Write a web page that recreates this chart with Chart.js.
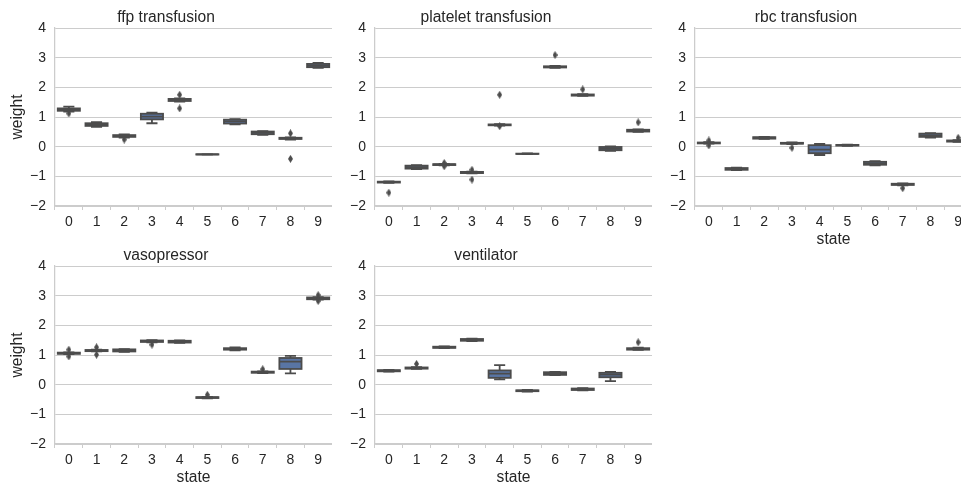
<!DOCTYPE html>
<html>
<head>
  <title>Weights by state</title>
  <script src="https://cdn.jsdelivr.net/npm/chart.js"></script>
  <style>
    body { margin: 0; background: #fff; width: 961px; height: 482px; overflow: hidden; position: relative; }
    .panel { position: absolute; }
  </style>
</head>
<body>
  <div class="panel" style="left:0px;top:0px"><canvas id="ffp" width="332" height="247"></canvas></div>
  <div class="panel" style="left:320px;top:0px"><canvas id="platelet" width="332" height="247"></canvas></div>
  <div class="panel" style="left:640px;top:0px"><canvas id="rbc" width="332" height="247"></canvas></div>
  <div class="panel" style="left:0px;top:238px"><canvas id="vaso" width="332" height="247"></canvas></div>
  <div class="panel" style="left:320px;top:238px"><canvas id="vent" width="332" height="247"></canvas></div>

  <script>
    const states = ['0', '1', '2', '3', '4', '5', '6', '7', '8', '9'];

    // ffp transfusion
    const ffpQ1  = [1.21, 0.70, 0.33, 0.92, 1.54, -0.265, 0.78, 0.42, 0.26, 2.68];
    const ffpMed = [1.25, 0.75, 0.36, 1.01, 1.58, -0.26, 0.85, 0.47, 0.28, 2.73];
    const ffpQ3  = [1.29, 0.79, 0.39, 1.11, 1.61, -0.255, 0.91, 0.51, 0.30, 2.79];
    const ffpLo  = [1.18, 0.67, 0.31, 0.79, 1.52, -0.27, 0.75, 0.40, 0.24, 2.66];
    const ffpHi  = [1.35, 0.83, 0.41, 1.15, 1.63, -0.25, 0.93, 0.52, 0.31, 2.82];
    const ffpOut = [[1.12], [], [0.24], [], [1.75, 1.29], [], [], [], [0.45, -0.41], []];

    // platelet transfusion
    const pltQ1  = [-1.21, -0.74, -0.62, -0.89, 0.72, -0.245, 2.67, 1.72, -0.12, 0.51];
    const pltMed = [-1.19, -0.69, -0.60, -0.87, 0.73, -0.24, 2.69, 1.74, -0.07, 0.54];
    const pltQ3  = [-1.18, -0.64, -0.59, -0.85, 0.75, -0.235, 2.71, 1.76, -0.01, 0.57];
    const pltLo  = [-1.22, -0.76, -0.63, -0.90, 0.71, -0.25, 2.66, 1.71, -0.14, 0.50];
    const pltHi  = [-1.17, -0.62, -0.58, -0.84, 0.76, -0.23, 2.72, 1.77, 0.01, 0.58];
    const pltOut = [[-1.55], [], [-0.55, -0.66], [-0.78, -1.11], [1.75, 0.69], [], [3.09], [1.93], [], [0.82]];

    // rbc transfusion
    const rbcQ1  = [0.11, -0.78, 0.27, 0.10, -0.22, 0.035, -0.61, -1.29, 0.33, 0.17];
    const rbcMed = [0.12, -0.75, 0.30, 0.11, -0.10, 0.05, -0.56, -1.27, 0.38, 0.19];
    const rbcQ3  = [0.14, -0.72, 0.32, 0.13, 0.05, 0.06, -0.51, -1.25, 0.44, 0.21];
    const rbcLo  = [0.10, -0.79, 0.26, 0.09, -0.28, 0.03, -0.63, -1.30, 0.31, 0.16];
    const rbcHi  = [0.15, -0.71, 0.33, 0.14, 0.09, 0.065, -0.49, -1.24, 0.46, 0.22];
    const rbcOut = [[0.21, 0.04], [], [], [-0.04], [], [], [], [-1.40], [], [0.30]];

    // vasopressor
    const vasQ1  = [1.04, 1.13, 1.12, 1.44, 1.42, -0.45, 1.18, 0.40, 0.53, 2.88];
    const vasMed = [1.06, 1.15, 1.16, 1.47, 1.45, -0.43, 1.21, 0.42, 0.78, 2.91];
    const vasQ3  = [1.08, 1.17, 1.19, 1.49, 1.48, -0.42, 1.23, 0.44, 0.90, 2.94];
    const vasLo  = [1.03, 1.12, 1.11, 1.43, 1.41, -0.46, 1.16, 0.39, 0.38, 2.87];
    const vasHi  = [1.09, 1.18, 1.20, 1.50, 1.49, -0.41, 1.26, 0.45, 0.97, 2.95];
    const vasOut = [[1.18, 0.95], [1.26, 1.01], [], [1.35], [], [-0.34], [], [0.52], [], [3.02, 2.82]];

    // ventilator
    const venQ1  = [0.45, 0.54, 1.24, 1.48, 0.23, -0.22, 0.33, -0.18, 0.25, 1.18];
    const venMed = [0.47, 0.56, 1.26, 1.51, 0.37, -0.20, 0.38, -0.15, 0.34, 1.21];
    const venQ3  = [0.49, 0.58, 1.28, 1.54, 0.48, -0.19, 0.42, -0.13, 0.40, 1.23];
    const venLo  = [0.44, 0.53, 1.23, 1.47, 0.18, -0.23, 0.32, -0.19, 0.12, 1.17];
    const venHi  = [0.50, 0.59, 1.29, 1.55, 0.66, -0.18, 0.43, -0.12, 0.43, 1.25];
    const venOut = [[], [0.70], [], [], [], [], [], [], [], [1.43]];

    const yTicks = [-2, -1, 0, 1, 2, 3, 4];

    const FONT = "'Liberation Sans', Arial, sans-serif";
    const TEXT = '#262626';
    const GRID = '#cccccc';
    const BOX_FILL = '#5975a4';
    const LINE = '#4c4c4c';

    // thin diamond marker for fliers
    const diamond = document.createElement('canvas');
    diamond.width = 5; diamond.height = 8;
    (function () {
      const c = diamond.getContext('2d');
      c.fillStyle = LINE;
      c.beginPath();
      c.moveTo(2.5, 0); c.lineTo(5, 4); c.lineTo(2.5, 8); c.lineTo(0, 4);
      c.closePath(); c.fill();
    })();

    // outlines, whiskers, caps and medians on top of the floating bars
    const boxLines = {
      id: 'boxLines',
      afterDatasetDraw(chart, args) {
        const ds = chart.data.datasets[args.index];
        if (!ds.stats) return;
        const st = ds.stats;
        const y = chart.scales.y;
        const ctx = chart.ctx;
        ctx.save();
        ctx.strokeStyle = LINE;
        ctx.lineWidth = 1.8;
        ctx.lineCap = 'butt';
        args.meta.data.forEach((bar, i) => {
          const w = bar.width, x0 = bar.x - w / 2, x1 = bar.x + w / 2;
          const top = y.getPixelForValue(st.q3[i]);
          const bot = y.getPixelForValue(st.q1[i]);
          const hi = y.getPixelForValue(st.hi[i]);
          const lo = y.getPixelForValue(st.lo[i]);
          const med = y.getPixelForValue(st.med[i]);
          ctx.strokeRect(x0, top, w, bot - top);
          ctx.beginPath();
          ctx.moveTo(bar.x, top); ctx.lineTo(bar.x, hi);
          ctx.moveTo(bar.x, bot); ctx.lineTo(bar.x, lo);
          ctx.moveTo(bar.x - w / 4, hi); ctx.lineTo(bar.x + w / 4, hi);
          ctx.moveTo(bar.x - w / 4, lo); ctx.lineTo(bar.x + w / 4, lo);
          ctx.moveTo(x0, med); ctx.lineTo(x1, med);
          ctx.stroke();
        });
        ctx.restore();
      }
    };

    function makePanel(id, title, q1, med, q3, lo, hi, out, showWeight, showState) {
      const fliers = [];
      out.forEach((vals, i) => vals.forEach(v => fliers.push({ x: states[i], y: v })));

      return new Chart(document.getElementById(id), {
        type: 'bar',
        data: {
          labels: states,
          datasets: [
            {
              type: 'line',
              data: fliers,
              showLine: false,
              pointStyle: diamond,
              pointRadius: 4,
              pointHoverRadius: 4
            },
            {
              type: 'bar',
              data: q1.map((v, i) => [v, q3[i]]),
              stats: { q1, med, q3, lo, hi },
              backgroundColor: BOX_FILL,
              borderWidth: 0,
              barPercentage: 0.8,
              categoryPercentage: 1.0
            }
          ]
        },
        options: {
          responsive: false,
          animation: false,
          events: [],
          layout: { padding: 0, autoPadding: false },
          plugins: {
            legend: { display: false },
            tooltip: { enabled: false },
            title: {
              display: true,
              text: title,
              color: TEXT,
              font: { family: FONT, size: 15.6, weight: 'normal' },
              padding: { top: 8.5, bottom: 0.8 }
            }
          },
          scales: {
            x: {
              type: 'category',
              offset: true,
              afterFit: s => { s.height = 41; s.paddingLeft = 0; s.paddingRight = 0; },
              grid: { drawOnChartArea: false, drawTicks: true, tickLength: 4, color: GRID },
              border: { display: true, color: GRID, width: 1.25 },
              ticks: { color: TEXT, font: { family: FONT, size: 14 }, padding: 3.5, maxRotation: 0 },
              title: {
                display: showState,
                text: 'state',
                color: TEXT,
                font: { family: FONT, size: 15.6, lineHeight: 1.0 },
                padding: 0
              }
            },
            y: {
              min: -2,
              max: 4,
              afterFit: s => { s.width = 55; },
              afterBuildTicks: s => { s.ticks = yTicks.map(v => ({ value: v })); },
              grid: { color: GRID, lineWidth: 1, drawTicks: false },
              border: { display: true, color: GRID, width: 1.25 },
              ticks: {
                color: TEXT,
                font: { family: FONT, size: 14 },
                padding: 9,
                callback: v => String(v).replace('-', '\u2212')
              },
              title: {
                display: showWeight,
                text: 'weight',
                color: TEXT,
                font: { family: FONT, size: 15.6 },
                padding: { top: 8, bottom: 0 }
              }
            }
          }
        },
        plugins: [boxLines]
      });
    }

    makePanel('ffp', 'ffp transfusion', ffpQ1, ffpMed, ffpQ3, ffpLo, ffpHi, ffpOut, true, false);
    makePanel('platelet', 'platelet transfusion', pltQ1, pltMed, pltQ3, pltLo, pltHi, pltOut, false, false);
    makePanel('rbc', 'rbc transfusion', rbcQ1, rbcMed, rbcQ3, rbcLo, rbcHi, rbcOut, false, true);
    makePanel('vaso', 'vasopressor', vasQ1, vasMed, vasQ3, vasLo, vasHi, vasOut, true, true);
    makePanel('vent', 'ventilator', venQ1, venMed, venQ3, venLo, venHi, venOut, false, true);
  </script>
</body>
</html>
